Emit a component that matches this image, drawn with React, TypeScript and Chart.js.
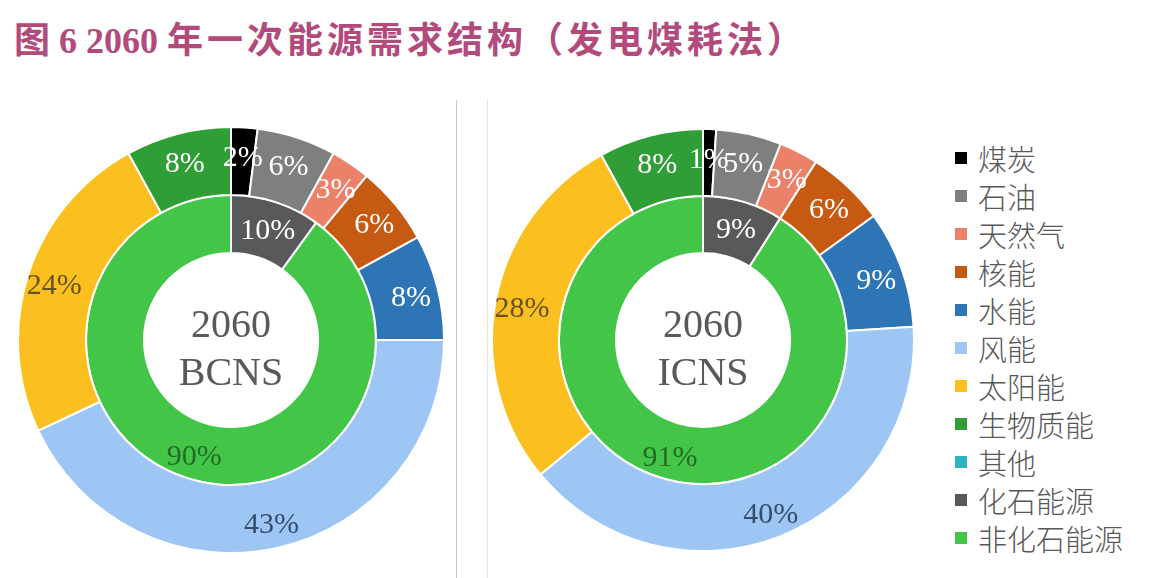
import React, { useEffect, useRef } from "react";
import { Chart, registerables } from "chart.js";

Chart.register(...registerables);

const categories = ["煤炭", "石油", "天然气", "核能", "水能", "风能", "太阳能", "生物质能", "其他"];
const groups = ["化石能源", "非化石能源"];
const bcnsOuter = [2, 6, 3, 6, 8, 43, 24, 8, 0];
const bcnsInner = [10, 90];
const icnsOuter = [1, 5, 3, 6, 9, 40, 28, 8, 0];
const icnsInner = [9, 91];
const outerColors = ["#000000", "#7f7f7f", "#ec8169", "#c65a12", "#2e75b6", "#9dc6f4", "#fbbf1f", "#2f9e36", "#2eb3c2"];
const innerColors = ["#595959", "#43c647"];
const outerLabelColors = ["#ffffff", "#ffffff", "#ffffff", "#ffffff", "#ffffff", "#354e6e", "#66531f", "#ffffff", "#ffffff"];
const innerLabelColors = ["#ffffff", "#256b27"];
const titlePrefix = "图";
const titleNumber = " 6 2060 ";
const titleMain = "年一次能源需求结构（发电煤耗法）";

const labelPlugin = {
  id: "sliceLabels",
  afterDatasetsDraw(chart: any, _args: any, opts: any) {
    const ctx = chart.ctx;
    ctx.save();
    ctx.font = "30px 'Liberation Serif', serif";
    ctx.textAlign = "center";
    ctx.textBaseline = "middle";
    chart.data.datasets.forEach((ds: any, di: number) => {
      const meta = chart.getDatasetMeta(di);
      meta.data.forEach((arc: any, i: number) => {
        const v = ds.data[i];
        if (!v) return;
        const { x, y, startAngle, endAngle, innerRadius, outerRadius } = arc.getProps(
          ["x", "y", "startAngle", "endAngle", "innerRadius", "outerRadius"],
          true
        );
        const mid = (startAngle + endAngle) / 2;
        const r = innerRadius + (outerRadius - innerRadius) * (di === 0 ? 0.6 : 0.55);
        ctx.fillStyle = ds.labelColors[i];
        ctx.fillText(v + "%", x + Math.cos(mid) * r, y + Math.sin(mid) * r + 4);
      });
    });
    const cx = (chart.chartArea.left + chart.chartArea.right) / 2;
    const cy = (chart.chartArea.top + chart.chartArea.bottom) / 2;
    ctx.font = "40px 'Liberation Serif', serif";
    ctx.fillStyle = "#595959";
    ctx.fillText(opts.line1, cx, cy - 14);
    ctx.fillText(opts.line2, cx, cy + 34);
    ctx.restore();
  },
};

function Donut(props: { outer: number[]; inner: number[]; line1: string; line2: string; size: number; left: number; top: number }) {
  const ref = useRef<HTMLCanvasElement>(null);
  useEffect(() => {
    if (!ref.current) return;
    const r = (props.size - 2) / 2;
    const chart = new Chart(ref.current, {
      type: "doughnut",
      data: {
        labels: categories,
        datasets: [
          {
            data: props.outer,
            backgroundColor: outerColors,
            borderColor: "#ffffff",
            borderWidth: 2,
            weight: 68,
            labelColors: outerLabelColors,
          } as any,
          {
            data: props.inner,
            backgroundColor: innerColors,
            borderColor: "#ffffff",
            borderWidth: 2,
            weight: 58,
            labelColors: innerLabelColors,
          } as any,
        ],
      },
      options: {
        animation: false,
        responsive: false,
        maintainAspectRatio: false,
        cutout: (87 / r) * 100 + "%",
        layout: { padding: 0 },
        plugins: {
          legend: { display: false },
          tooltip: { enabled: false },
          sliceLabels: { line1: props.line1, line2: props.line2 },
        } as any,
      },
      plugins: [labelPlugin],
    });
    return () => chart.destroy();
  }, []);
  return (
    <canvas
      ref={ref}
      width={props.size}
      height={props.size}
      style={{ position: "absolute", left: props.left, top: props.top, width: props.size, height: props.size }}
    />
  );
}

const legendItems = [...categories, ...groups];
const legendColors = [...outerColors, ...innerColors];

export default function App() {
  return (
    <div style={{ position: "absolute", left: 0, top: 0, width: 1154, height: 578, background: "#ffffff", overflow: "hidden" }}>
      <div
        style={{
          position: "absolute",
          left: 14,
          top: 18,
          fontFamily: "'Liberation Serif', 'Noto Sans CJK SC', serif",
          fontWeight: 700,
          fontSize: 36,
          color: "#b24a7c",
          whiteSpace: "nowrap",
          lineHeight: "46px",
        }}
      >
        <span>{titlePrefix}</span>
        <span>{titleNumber}</span>
        <span style={{ letterSpacing: 4 }}>{titleMain}</span>
      </div>
      <div style={{ position: "absolute", left: 456, top: 100, width: 1, height: 478, background: "#c8c8c8" }} />
      <div style={{ position: "absolute", left: 487, top: 100, width: 1, height: 478, background: "#e4e4e4" }} />
      <Donut outer={bcnsOuter} inner={bcnsInner} line1="2060" line2="BCNS" size={428} left={17} top={126} />
      <Donut outer={icnsOuter} inner={icnsInner} line1="2060" line2="ICNS" size={424} left={491} top={128} />
      <div style={{ position: "absolute", left: 955, top: 139 }}>
        {legendItems.map((name, i) => (
          <div key={name} style={{ display: "flex", alignItems: "center", height: 38 }}>
            <div style={{ width: 12, height: 12, background: legendColors[i], marginRight: 11 }} />
            <span
              style={{
                fontFamily: "'Noto Sans CJK SC', sans-serif",
                fontSize: 29,
                color: "#595959",
                lineHeight: "38px",
                fontWeight: 300,
              }}
            >
              {name}
            </span>
          </div>
        ))}
      </div>
    </div>
  );
}
